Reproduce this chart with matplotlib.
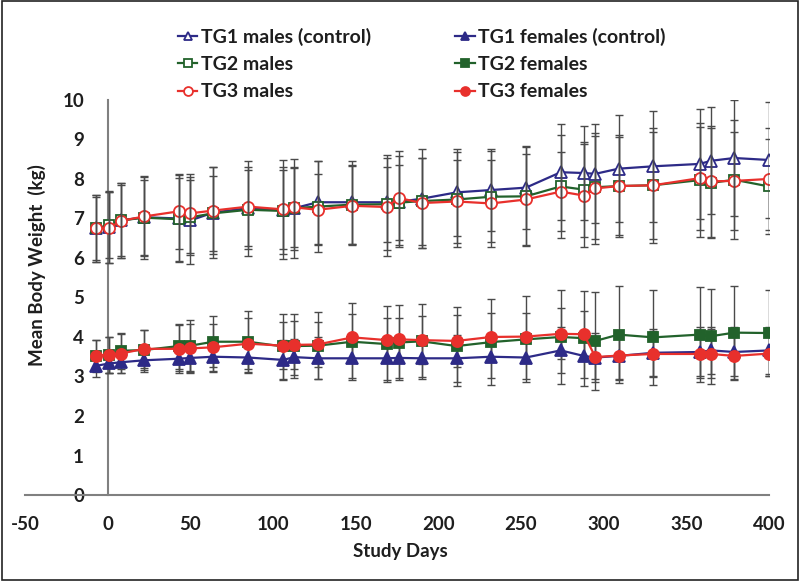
import matplotlib
matplotlib.use("Agg")
import matplotlib.pyplot as plt
from matplotlib.patches import Rectangle

plt.rcParams["font.family"] = ["Lato", "DejaVu Sans"]
plt.rcParams["font.weight"] = "bold"
plt.rcParams["axes.unicode_minus"] = False

# Study days (shared by all groups)
days = [-7, 1, 8, 22, 43, 50, 64, 85, 106, 113, 127, 148, 169, 176, 190,
        211, 232, 253, 274, 288, 295, 309, 330, 358, 365, 379, 400]

# Mean body weight (kg)
tg1_males = [6.75, 6.78, 6.95, 7.03, 7.0, 6.95, 7.15, 7.26, 7.22, 7.26, 7.41,
             7.41, 7.41, 7.42, 7.5, 7.66, 7.72, 7.78, 8.17, 8.15, 8.13, 8.26,
             8.32, 8.38, 8.46, 8.53, 8.48]
tg2_males = [6.75, 6.84, 6.95, 7.02, 6.98, 7.03, 7.13, 7.22, 7.19, 7.26, 7.3,
             7.35, 7.36, 7.4, 7.44, 7.48, 7.55, 7.56, 7.81, 7.73, 7.79, 7.82,
             7.84, 7.97, 7.9, 7.98, 7.81]
tg3_males = [6.75, 6.76, 6.94, 7.05, 7.18, 7.13, 7.2, 7.3, 7.23, 7.28, 7.22,
             7.32, 7.29, 7.52, 7.39, 7.43, 7.38, 7.48, 7.68, 7.58, 7.76, 7.82,
             7.84, 8.02, 7.94, 7.95, 8.0]
tg1_females = [3.27, 3.33, 3.36, 3.41, 3.45, 3.47, 3.5, 3.48, 3.42, 3.49, 3.46,
               3.46, 3.46, 3.47, 3.46, 3.46, 3.5, 3.48, 3.66, 3.52, 3.48, 3.52,
               3.6, 3.62, 3.66, 3.62, 3.66]
tg2_females = [3.52, 3.55, 3.65, 3.67, 3.77, 3.78, 3.88, 3.88, 3.76, 3.77, 3.78,
               3.88, 3.82, 3.86, 3.89, 3.77, 3.87, 3.94, 4.0, 3.97, 3.9, 4.06,
               3.99, 4.06, 4.02, 4.11, 4.1]
tg3_females = [3.53, 3.55, 3.58, 3.7, 3.7, 3.71, 3.74, 3.83, 3.78, 3.8, 3.81,
               3.99, 3.92, 3.94, 3.92, 3.9, 4.0, 4.01, 4.08, 4.07, 3.49, 3.53,
               3.57, 3.57, 3.57, 3.52, 3.58]

# Standard deviations (kg)
tg1_males_sd = [0.85, 0.9, 0.95, 1.05, 1.1, 1.1, 1.15, 1.2, 1.25, 1.25, 1.05,
                1.05, 1.2, 1.15, 1.25, 1.1, 1.05, 1.05, 1.22, 1.2, 1.25, 1.35,
                1.4, 1.4, 1.35, 1.47, 1.48]
tg2_males_sd = [0.85, 0.85, 0.95, 0.95, 1.05, 0.95, 0.95, 1.0, 1.1, 1.05, 1.15,
                1.0, 0.95, 0.95, 1.1, 1.2, 1.15, 1.25, 1.3, 1.2, 1.3, 1.25,
                1.35, 1.45, 1.4, 1.5, 1.2]
tg3_males_sd = [0.8, 0.9, 0.9, 1.0, 0.95, 1.0, 1.1, 1.0, 1.0, 1.0, 0.9, 1.0,
                1.25, 1.2, 1.15, 1.05, 1.1, 1.15, 1.0, 1.3, 1.4, 1.3, 1.45, 1.3,
                1.4, 1.25, 1.3]
tg1_females_sd = [0.28, 0.25, 0.28, 0.3, 0.32, 0.35, 0.38, 0.4, 0.5, 0.45, 0.53,
                  0.5, 0.55, 0.5, 0.48, 0.6, 0.55, 0.55, 0.58, 0.55, 0.55, 0.6,
                  0.6, 0.62, 0.6, 0.62, 0.6]
tg2_females_sd = [0.4, 0.45, 0.45, 0.5, 0.57, 0.65, 0.65, 0.77, 0.83, 0.8, 0.85,
                  0.97, 0.96, 0.96, 0.95, 1.0, 1.08, 1.09, 1.2, 1.2, 1.24, 1.23,
                  1.2, 1.2, 1.2, 1.17, 1.1]
tg3_females_sd = [0.4, 0.45, 0.5, 0.48, 0.6, 0.62, 0.6, 0.65, 0.6, 0.6, 0.58,
                  0.6, 0.55, 0.55, 0.6, 0.65, 0.6, 0.6, 0.65, 0.6, 0.62, 0.6,
                  0.58, 0.6, 0.62, 0.6, 0.58]

BLUE = "#2D2A87"
GREEN = "#22622B"
RED = "#E8302C"
ERR_COLOR = "#4A4A4A"
AXIS_COLOR = "#808080"
TEXT_COLOR = "#1E1E1E"

series = [
    ("TG1 males (control)", tg1_males, tg1_males_sd, BLUE, "^", False),
    ("TG2 males", tg2_males, tg2_males_sd, GREEN, "s", False),
    ("TG3 males", tg3_males, tg3_males_sd, RED, "o", False),
    ("TG1 females (control)", tg1_females, tg1_females_sd, BLUE, "^", True),
    ("TG2 females", tg2_females, tg2_females_sd, GREEN, "s", True),
    ("TG3 females", tg3_females, tg3_females_sd, RED, "o", True),
]

fig = plt.figure(figsize=(8, 5.81), dpi=100)
ax = fig.add_axes([0.03125, 0.148, 0.93, 0.68])

handles = []
for label, vals, sd, color, marker, filled in series:
    ax.errorbar(days, vals, yerr=sd, fmt="none", ecolor=ERR_COLOR,
                elinewidth=1.0, capsize=3, capthick=1.0,
                zorder=3 if filled else 4)
    (ln,) = ax.plot(days, vals, color=color, lw=1.6, marker=marker,
                    ms=8 if marker != "s" else 7,
                    mfc=color if filled else "white", mec=color, mew=1.3,
                    label=label, zorder=5 if filled else 3.5)
    handles.append(ln)

ax.set_xlim(-50, 400)
ax.set_ylim(0, 10)
ax.set_xticks(range(-50, 401, 50))
ax.set_yticks(range(0, 11))

for side in ["top", "right"]:
    ax.spines[side].set_visible(False)
ax.spines["left"].set_position(("data", 0))
for side in ["left", "bottom"]:
    ax.spines[side].set_color(AXIS_COLOR)
    ax.spines[side].set_linewidth(1.5)

ax.tick_params(axis="x", length=0, pad=15, labelsize=13.5)
ax.tick_params(axis="y", length=0, pad=17, labelsize=13.5)
for t in ax.get_xticklabels() + ax.get_yticklabels():
    t.set_fontweight("bold")
    t.set_color(TEXT_COLOR)

fig.text(0.5, 1 - 551 / 581, "Study Days", ha="center", va="center",
         fontsize=13.5, fontweight="bold", color=TEXT_COLOR)
fig.text(37 / 800, 1 - 265 / 581, "Mean Body Weight  (kg)", rotation=90,
         ha="center", va="center", fontsize=13.5, fontweight="bold",
         color=TEXT_COLOR)

leg = fig.legend(handles=handles, ncol=2, loc="upper left",
                 bbox_to_anchor=(178 / 800, 1 - 28 / 581), frameon=False,
                 fontsize=14, handlelength=1.0, handletextpad=0.2,
                 columnspacing=4.3, labelspacing=0.52, markerscale=0.8,
                 borderaxespad=0, borderpad=0)
for t in leg.get_texts():
    t.set_color(TEXT_COLOR)

fig.patches.append(Rectangle((0.002, 0.002), 0.996, 0.996, fill=False,
                             edgecolor="#222222", lw=1.2,
                             transform=fig.transFigure, figure=fig))

fig.savefig("out.png", dpi=100, facecolor="white")
